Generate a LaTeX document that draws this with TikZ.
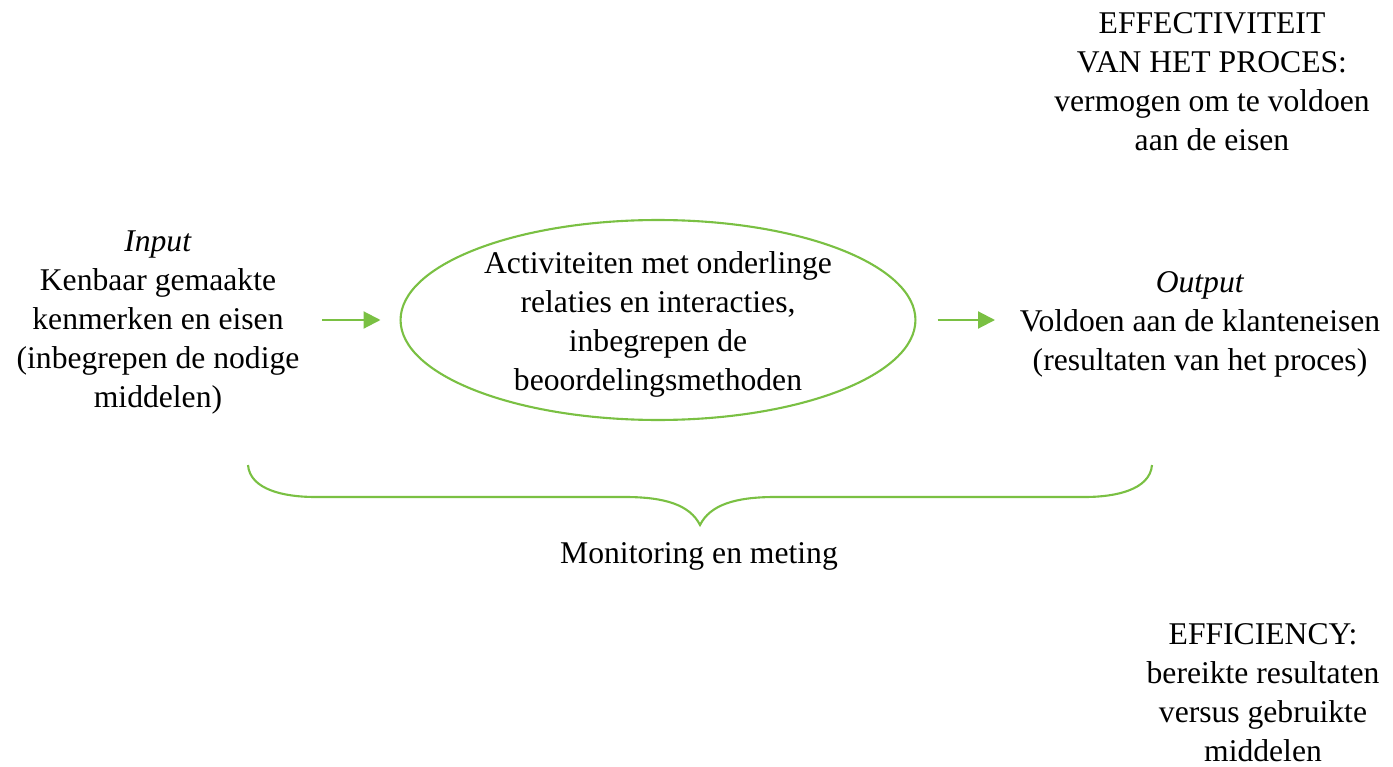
\documentclass[tikz,border=0pt]{standalone}
\usepackage{fontspec}
\setmainfont{Liberation Serif}
\usetikzlibrary{arrows.meta,shapes.geometric}
\definecolor{procgreen}{RGB}{122,192,67}
\tikzset{
  txt/.style={align=center, font=\fontsize{18}{22.2}\selectfont, inner sep=2pt},
  arr/.style={draw=procgreen, line width=1.2pt, -{Triangle[length=0.34cm,width=0.34cm]}},
  procbox/.style={ellipse, draw=procgreen, line width=1.2pt, minimum width=10.3cm, minimum height=4cm}
}
\begin{document}
\begin{tikzpicture}[x=0.02cm, y=-0.02cm]
	\useasboundingbox (0,0) rectangle (1393,767);
	% proces
	\node[procbox] (proc) at (658,320) {};
	\node[txt] (proctxt) at (658,324) {Activiteiten met onderlinge\\relaties en interacties,\\inbegrepen de\\beoordelingsmethoden};
	% input en output
	\node[txt] (input) at (158,323) {\textit{Input}\\Kenbaar gemaakte\\kenmerken en eisen\\(inbegrepen de nodige\\middelen)};
	\node[txt] (output) at (1200,324) {\textit{Output}\\Voldoen aan de klanteneisen\\(resultaten van het proces)};
	\coordinate (inA) at (322,320);
	\coordinate (outB) at (995,320);
	\draw[arr] (inA) -- ([xshift=-0.38cm]proc.west);
	\draw[arr] ([xshift=0.42cm]proc.east) -- (outB);
	% accolade
	\draw[procgreen, line width=1.2pt] (248,465) .. controls (250,490) and (285,497) .. (315,497) -- (625,497) .. controls (665,497) and (690,505) .. (700,525)
		.. controls (710,505) and (735,497) .. (775,497) -- (1085,497) .. controls (1115,497) and (1150,490) .. (1152,465);
	\node[txt] (meting) at (699,556) {Monitoring en meting};
	% rechts
	\node[txt] (effect) at (1212,82) {EFFECTIVITEIT\\VAN HET PROCES:\\vermogen om te voldoen\\aan de eisen};
	\node[txt, inner sep=0pt] (effic) at (1263,693) {EFFICIENCY:\\bereikte resultaten\\versus gebruikte\\middelen};
\end{tikzpicture}
\end{document}
